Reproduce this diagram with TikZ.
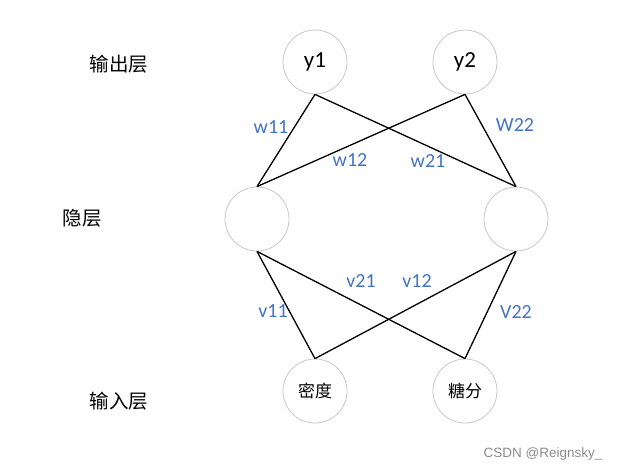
\documentclass[tikz,border=0pt]{standalone}
\usepackage{fontspec}
\setmainfont{Carlito}
\newfontfamily\cjk{Noto Sans CJK SC}
\newfontfamily\wmfont{Liberation Sans}
\begin{document}
\begin{tikzpicture}[x=1pt,y=-1pt,
  neuron/.style={circle,draw=black!22,line width=0.8pt,minimum size=64pt,inner sep=0pt},
  wlabel/.style={text=lblue,font=\fontsize{20}{22}\selectfont,inner sep=0pt},
  layer/.style={font=\cjk\fontsize{19.5}{21}\selectfont,inner sep=0pt},
  conn/.style={draw=black,line width=1.3pt}]
\definecolor{lblue}{HTML}{4472C4}
\useasboundingbox (0,0) rectangle (619,471);
\node[neuron,font=\fontsize{23}{25}\selectfont] (y1) at (315,62) {y1};
\node[neuron,font=\fontsize{23}{25}\selectfont] (y2) at (465,62) {y2};
\node[neuron] (h1) at (257,219) {};
\node[neuron] (h2) at (516,219) {};
\node[neuron,font=\cjk\fontsize{17}{19}\selectfont] (x1) at (315,391) {密度};
\node[neuron,font=\cjk\fontsize{17}{19}\selectfont] (x2) at (465,391) {糖分};
\draw[conn] (y1.south) -- (h1.north);
\draw[conn] (y1.south) -- (h2.north);
\draw[conn] (y2.south) -- (h1.north);
\draw[conn] (y2.south) -- (h2.north);
\draw[conn] (h1.south) -- (x1.north);
\draw[conn] (h1.south) -- (x2.north);
\draw[conn] (h2.south) -- (x1.north);
\draw[conn] (h2.south) -- (x2.north);
\node[wlabel] (lw11) at (271,127) {w11};
\node[wlabel] (lw22) at (515,125) {W22};
\node[wlabel] (lw12) at (350,160) {w12};
\node[wlabel] (lw21) at (428,161) {w21};
\node[wlabel] (lv21) at (361,281) {v21};
\node[wlabel] (lv12) at (417,281) {v12};
\node[wlabel] (lv11) at (273,311) {v11};
\node[wlabel] (lv22) at (516,312) {V22};
\node[layer] (out) at (119,64) {输出层};
\node[layer] (hid) at (82,218) {隐层};
\node[layer] (in) at (119,401) {输入层};
\node[font=\wmfont\fontsize{13.5}{15}\selectfont,text=black!45,inner sep=0pt] (wm) at (543,454) {CSDN @Reignsky\_};
\end{tikzpicture}
\end{document}
